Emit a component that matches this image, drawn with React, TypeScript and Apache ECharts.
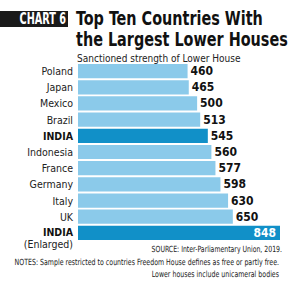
import React, { useEffect, useRef } from "react";
import * as echarts from "echarts";

const countries = [
  "Poland",
  "Japan",
  "Mexico",
  "Brazil",
  "INDIA",
  "Indonesia",
  "France",
  "Germany",
  "Italy",
  "UK",
  "INDIA (Enlarged)",
];
const seats = [460, 465, 500, 513, 545, 560, 577, 598, 630, 650, 848];
const highlighted = ["INDIA", "INDIA (Enlarged)"];

const FONT = "'DejaVu Sans Condensed', 'Liberation Sans', sans-serif";
const LIGHT = "#8bcaea";
const DARK = "#1190c8";

export default function App() {
  const ref = useRef<HTMLDivElement>(null);

  useEffect(() => {
    document.body.style.margin = "0";
    const chart = echarts.init(ref.current!, undefined, { renderer: "svg" });
    const last = countries.length - 1;

    chart.setOption({
      animation: false,
      backgroundColor: "#ffffff",
      textStyle: { fontFamily: FONT },
      grid: { left: 78, right: 21, top: 63, bottom: 40, containLabel: false },
      xAxis: {
        type: "value",
        min: 0,
        max: 848,
        show: false,
      },
      yAxis: {
        type: "category",
        inverse: true,
        data: countries.map((c, i) =>
          i === last ? { value: c, textStyle: { padding: [11, 0, 0, 0] } } : c
        ),
        axisLine: { show: false },
        axisTick: { show: false },
        axisLabel: {
          interval: 0,
          margin: 5,
          fontFamily: FONT,
          fontSize: 10.5,
          color: "#222",
          formatter: (v: string) => {
            if (v === "INDIA") return "{b|INDIA}";
            if (v === "INDIA (Enlarged)") return "{b|INDIA}\n{n|(Enlarged)}";
            return v;
          },
          rich: {
            b: { fontFamily: FONT, fontSize: 10.5, fontWeight: "bold", color: "#111", lineHeight: 12 },
            n: { fontFamily: FONT, fontSize: 10.5, color: "#222", lineHeight: 12 },
          },
        },
      },
      series: [
        {
          type: "bar",
          barCategoryGap: "12%",
          data: seats.map((v, i) => ({
            value: v,
            itemStyle: { color: highlighted.includes(countries[i]) ? DARK : LIGHT },
            label:
              i === last
                ? { position: "insideRight", color: "#ffffff", distance: 4 }
                : undefined,
          })),
          label: {
            show: true,
            position: "right",
            distance: 3,
            fontFamily: FONT,
            fontSize: 12,
            fontWeight: "bold",
            color: "#111",
          },
        },
      ],
      graphic: [
        {
          type: "rect",
          shape: { x: 0, y: 11, width: 68, height: 16 },
          style: { fill: "#1a1a1a" },
        },
        {
          type: "text",
          x: 66,
          y: 19,
          scaleX: 0.72,
          style: {
            text: "CHART 6",
            fill: "#ffffff",
            font: `bold 15px ${FONT}`,
            align: "right",
            verticalAlign: "middle",
          },
        },
        {
          type: "text",
          x: 76,
          y: 7,
          scaleX: 0.8,
          style: {
            text: "Top Ten Countries With\nthe Largest Lower Houses",
            fill: "#111",
            font: `bold 20px ${FONT}`,
            lineHeight: 21,
            align: "left",
            verticalAlign: "top",
          },
        },
        {
          type: "text",
          x: 77,
          y: 58,
          style: {
            text: "Sanctioned strength of Lower House",
            fill: "#222",
            font: `10px ${FONT}`,
            align: "left",
            verticalAlign: "middle",
          },
        },
        {
          type: "text",
          x: 282,
          y: 249,
          scaleX: 0.81,
          style: {
            text: "SOURCE: Inter-Parliamentary Union, 2019.",
            fill: "#222",
            font: `8.5px ${FONT}`,
            align: "right",
            verticalAlign: "middle",
          },
        },
        {
          type: "text",
          x: 279,
          y: 256,
          scaleX: 0.82,
          style: {
            text: "NOTES: Sample restricted to countries Freedom House defines as free or partly free.\nLower houses include unicameral bodies",
            fill: "#222",
            font: `8.5px ${FONT}`,
            lineHeight: 12,
            align: "right",
            verticalAlign: "top",
          },
        },
      ],
    });

    return () => chart.dispose();
  }, []);

  return <div ref={ref} style={{ width: 301, height: 281 }} />;
}
